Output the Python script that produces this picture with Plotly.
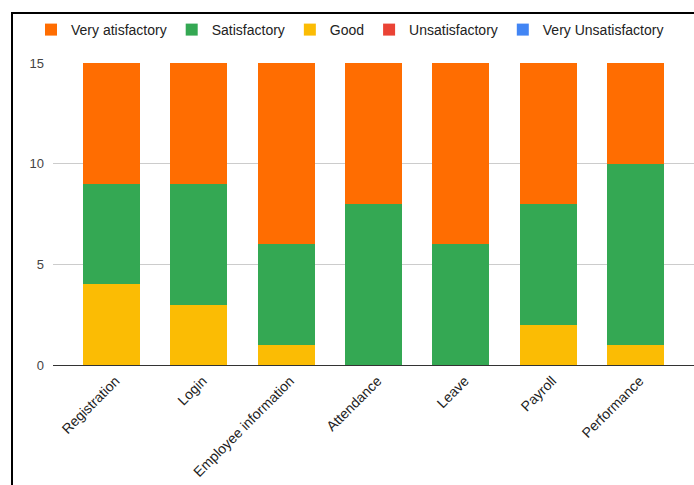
import plotly.graph_objects as go

categories = ["Registration", "Login", "Employee information", "Attendance", "Leave", "Payroll", "Performance"]
good = [4, 3, 1, 0, 0, 2, 1]
satisfactory = [5, 6, 5, 8, 6, 6, 9]
very_satisfactory = [6, 6, 9, 7, 9, 7, 5]
unsatisfactory = [0, 0, 0, 0, 0, 0, 0]
very_unsatisfactory = [0, 0, 0, 0, 0, 0, 0]
y_ticks = [0, 5, 10, 15]

series = [
    ("Good", good, "#fbbc04", 3),
    ("Satisfactory", satisfactory, "#34a853", 2),
    ("Very atisfactory", very_satisfactory, "#ff6d01", 1),
    ("Unsatisfactory", unsatisfactory, "#ea4335", 4),
    ("Very Unsatisfactory", very_unsatisfactory, "#4285f4", 5),
]

fig = go.Figure()
for name, vals, color, rank in series:
    fig.add_trace(go.Bar(x=categories, y=vals, name=name, marker=dict(color=color, line=dict(width=0)),
                         legendrank=rank, width=0.65))

L, R, T, B = 53, 0, 63, 120
W, H = 694, 485
pw, ph = W - L - R, H - T - B

fig.update_layout(
    width=W, height=H,
    barmode="stack",
    margin=dict(l=L, r=R, t=T, b=B),
    paper_bgcolor="white", plot_bgcolor="white",
    font=dict(family="Liberation Sans, Arial, sans-serif", size=13, color="#222"),
    legend=dict(orientation="h", x=(31 - L) / pw, xanchor="left", y=(H - B - 30) / ph, yanchor="middle",
                font=dict(size=14, color="#222"), itemclick=False, traceorder="normal"),
    xaxis=dict(range=[-0.67, 6.67], tickangle=-45, showgrid=False, showline=False, ticks="",
               ticklabelshift=4, ticklabelstandoff=4,
               tickfont=dict(size=14, color="#222")),
    yaxis=dict(range=[0, 15], tickvals=y_ticks, showgrid=True, gridcolor="#cccccc", gridwidth=1,
               zeroline=True, zerolinecolor="#333333", zerolinewidth=1, ticks="", ticklabelstandoff=8,
               tickfont=dict(size=13, color="#444")),
    shapes=[dict(type="rect", xref="paper", yref="paper",
                 x0=(12 - L) / pw, x1=1.2, y0=-1, y1=(H - B - 13) / ph,
                 line=dict(color="black", width=2), fillcolor="rgba(0,0,0,0)", layer="above")],
)

fig.write_html("out.html")
